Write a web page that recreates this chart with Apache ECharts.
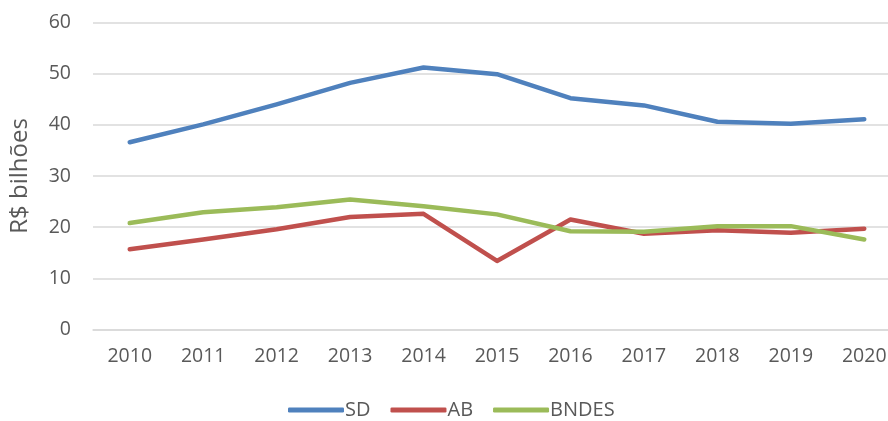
<!DOCTYPE html>
<html><head><meta charset="utf-8">
<script src="https://cdn.jsdelivr.net/npm/echarts@6/dist/echarts.min.js"></script>
<style>html,body{margin:0;padding:0;background:#fff;overflow:hidden}#c{width:902px;height:421px}</style>
</head><body><div id="c"></div>
<script>
const years = ['2010','2011','2012','2013','2014','2015','2016','2017','2018','2019','2020'];
const sd = [36.6, 40.1, 44.0, 48.2, 51.2, 49.9, 45.2, 43.8, 40.6, 40.2, 41.1];
const ab = [15.7, 17.6, 19.6, 22.0, 22.6, 13.4, 21.5, 18.7, 19.4, 18.9, 19.7];
const bndes = [20.8, 22.9, 23.9, 25.4, 24.1, 22.5, 19.2, 19.1, 20.2, 20.2, 17.6];
const yTicks = [0, 10, 20, 30, 40, 50, 60];
const font = '"Open Sans", "Noto Sans", sans-serif';
const chart = echarts.init(document.getElementById('c'));
const mk = (name, data, color) => ({
  name, type: 'line', data, symbol: 'none', smooth: false,
  lineStyle: {color, width: 4.5, cap: 'round', join: 'round'},
  itemStyle: {color}
});
chart.setOption({
  animation: false,
  textStyle: {fontFamily: font},
  grid: {left: 89, right: 1, top: 22.5, bottom: 91.5, containLabel: false},
  legend: {
    top: 395, left: 283, itemWidth: 56, itemHeight: 5, itemGap: 20,
    icon: 'roundRect',
    textStyle: {color: '#595959', fontSize: 20, fontFamily: font, padding: [0,0,0,-4]},
    data: ['SD', 'AB', 'BNDES']
  },
  xAxis: {
    type: 'category', data: years, boundaryGap: true,
    axisLine: {show: true, lineStyle: {color: '#d9d9d9', width: 1.5}},
    axisTick: {show: false},
    axisLabel: {color: '#595959', fontSize: 19.5, margin: 17}
  },
  yAxis: {
    type: 'value', min: yTicks[0], max: yTicks[yTicks.length-1], interval: 10,
    name: 'R$ bilhões', nameLocation: 'middle', nameGap: 61, nameRotate: 90,
    nameTextStyle: {color: '#595959', fontSize: 24, fontFamily: font},
    axisLine: {show: false}, axisTick: {show: false},
    axisLabel: {color: '#595959', fontSize: 19.5, margin: 22},
    splitLine: {lineStyle: {color: '#d9d9d9', width: 1.5}}
  },
  series: [mk('SD', sd, '#4F81BD'), mk('AB', ab, '#C0504D'), mk('BNDES', bndes, '#9BBB59')]
});
</script></body></html>
